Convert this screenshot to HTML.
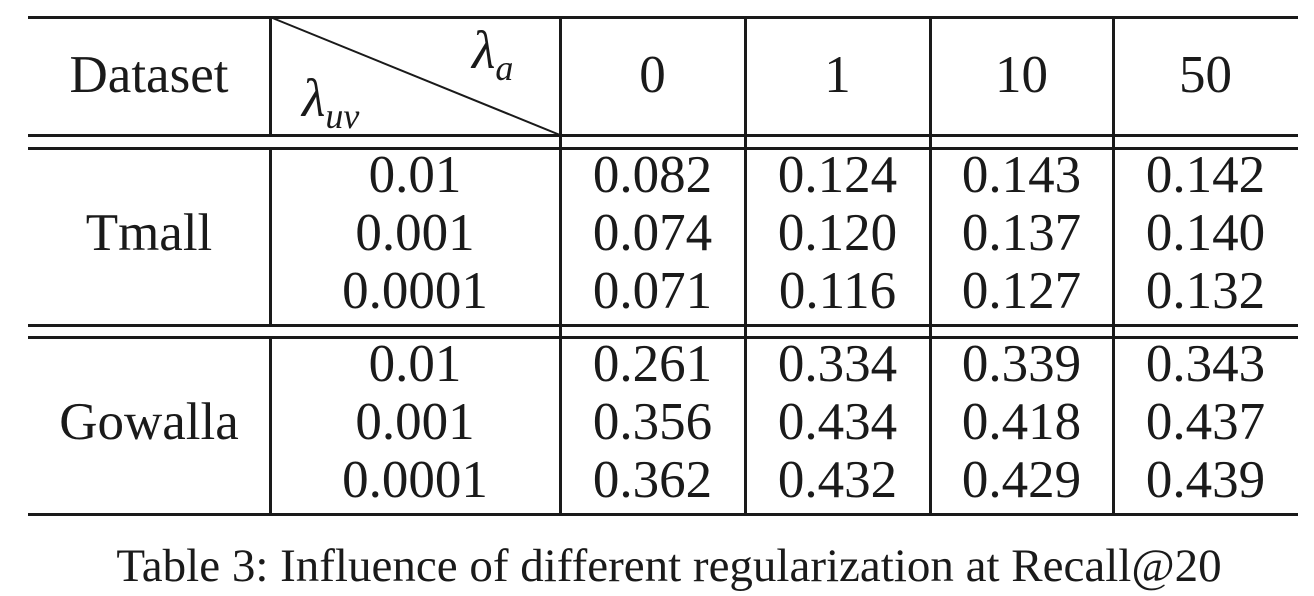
<!DOCTYPE html>
<html><head><meta charset="utf-8"><style>
body{margin:0;width:1314px;height:592px;background:#fff;position:relative;overflow:hidden;font-family:"Liberation Serif",serif;color:#1a1a1a}
.h{position:absolute;left:28px;width:1270px;height:2.5px;background:#1a1a1a}
.v{position:absolute;width:2.5px;background:#1a1a1a}
.t{position:absolute;height:60px;line-height:60px;text-align:center;font-size:53px;white-space:nowrap}
</style></head><body>
<div class="h" style="top:16px"></div>
<div class="h" style="top:134px"></div>
<div class="h" style="top:147px"></div>
<div class="h" style="top:324px"></div>
<div class="h" style="top:336px"></div>
<div class="h" style="top:513px"></div>
<div class="v" style="left:269px;top:17px;height:118px"></div>
<div class="v" style="left:269px;top:148px;height:177px"></div>
<div class="v" style="left:269px;top:337px;height:177px"></div>
<div class="v" style="left:559px;top:17px;height:497px"></div>
<div class="v" style="left:744px;top:17px;height:497px"></div>
<div class="v" style="left:929px;top:17px;height:497px"></div>
<div class="v" style="left:1112px;top:17px;height:497px"></div>
<svg style="position:absolute;left:0;top:0" width="1314" height="592"><line x1="270" y1="17" x2="560" y2="135" stroke="#1a1a1a" stroke-width="2"/></svg>
<div class="t" style="left:28px;width:242px;top:45px">Dataset</div>
<div class="t" style="left:472px;top:20px;font-size:54px"><i>λ</i><sub style="font-size:36px;font-style:italic">a</sub></div>
<div class="t" style="left:302px;top:68px;font-size:54px"><i>λ</i><sub style="font-size:36px;font-style:italic">uv</sub></div>
<div class="t" style="left:560px;width:185px;top:45px">0</div>
<div class="t" style="left:745px;width:185px;top:45px">1</div>
<div class="t" style="left:930px;width:183px;top:45px">10</div>
<div class="t" style="left:1113px;width:185px;top:45px">50</div>

<div class="t" style="left:28px;width:242px;top:203px">Tmall</div>
<div class="t" style="left:28px;width:242px;top:392px">Gowalla</div>

<div class="t" style="left:270px;width:290px;top:145px">0.01</div>
<div class="t" style="left:270px;width:290px;top:203px">0.001</div>
<div class="t" style="left:270px;width:290px;top:261px">0.0001</div>
<div class="t" style="left:270px;width:290px;top:334px">0.01</div>
<div class="t" style="left:270px;width:290px;top:392px">0.001</div>
<div class="t" style="left:270px;width:290px;top:450px">0.0001</div>

<div class="t" style="left:560px;width:185px;top:145px">0.082</div>
<div class="t" style="left:560px;width:185px;top:203px">0.074</div>
<div class="t" style="left:560px;width:185px;top:261px">0.071</div>
<div class="t" style="left:560px;width:185px;top:334px">0.261</div>
<div class="t" style="left:560px;width:185px;top:392px">0.356</div>
<div class="t" style="left:560px;width:185px;top:450px">0.362</div>

<div class="t" style="left:745px;width:185px;top:145px">0.124</div>
<div class="t" style="left:745px;width:185px;top:203px">0.120</div>
<div class="t" style="left:745px;width:185px;top:261px">0.116</div>
<div class="t" style="left:745px;width:185px;top:334px">0.334</div>
<div class="t" style="left:745px;width:185px;top:392px">0.434</div>
<div class="t" style="left:745px;width:185px;top:450px">0.432</div>

<div class="t" style="left:930px;width:183px;top:145px">0.143</div>
<div class="t" style="left:930px;width:183px;top:203px">0.137</div>
<div class="t" style="left:930px;width:183px;top:261px">0.127</div>
<div class="t" style="left:930px;width:183px;top:334px">0.339</div>
<div class="t" style="left:930px;width:183px;top:392px">0.418</div>
<div class="t" style="left:930px;width:183px;top:450px">0.429</div>

<div class="t" style="left:1113px;width:185px;top:145px">0.142</div>
<div class="t" style="left:1113px;width:185px;top:203px">0.140</div>
<div class="t" style="left:1113px;width:185px;top:261px">0.132</div>
<div class="t" style="left:1113px;width:185px;top:334px">0.343</div>
<div class="t" style="left:1113px;width:185px;top:392px">0.437</div>
<div class="t" style="left:1113px;width:185px;top:450px">0.439</div>

<div class="t" style="left:0;width:1338px;top:536px;font-size:47px">Table 3: Influence of different regularization at Recall@20</div>
</body></html>
